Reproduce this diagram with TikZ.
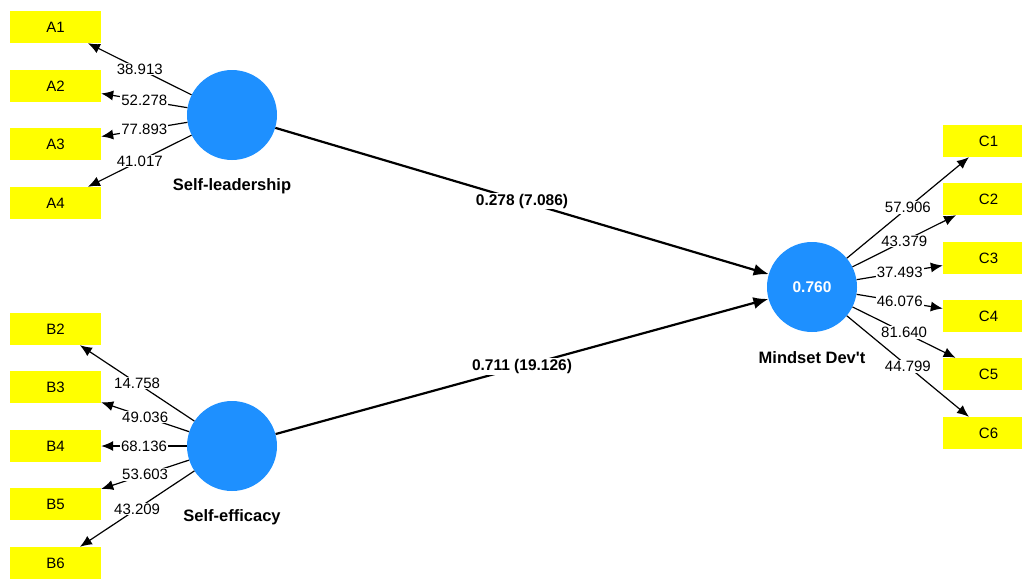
\documentclass[tikz,border=0pt]{standalone}
\usepackage{fontspec}
\setmainfont{Liberation Sans}
\usetikzlibrary{arrows.meta,shapes}
\definecolor{lvblue}{RGB}{30,144,255}
\definecolor{mvyellow}{RGB}{255,255,0}

\begin{document}
\begin{tikzpicture}[x=1pt, y=-1pt, font=\fontsize{15}{18}\selectfont,
lv/.style={circle, fill=lvblue, minimum size=90pt, inner sep=0pt, text=white, font=\fontsize{15.5}{18}\selectfont\bfseries},
mv/.style={rectangle, fill=mvyellow, minimum width=91pt, minimum height=32pt, inner sep=0pt},
lvname/.style={font=\fontsize{16.5}{19}\selectfont\bfseries},
pathname/.style={font=\fontsize{15.5}{18}\selectfont\bfseries},
load/.style={-{Latex[length=12pt,width=10pt]}, line width=1.2pt},
inner/.style={-{Latex[length=15pt,width=12pt]}, line width=2.2pt},
coef/.style={fill=white, inner sep=1pt}]
\useasboundingbox (0,0) rectangle (1022,578);
% latent variables
\node[lv] (sl) at (232,115) {};
\node[lv] (se) at (232,446) {};
\node[lv] (md) at (812,287) {0.760};
\node[lvname] (slname) at (232,186) {Self-leadership};
\node[lvname] (sename) at (232,517) {Self-efficacy};
\node[lvname] (mdname) at (812,358) {Mindset Dev\textquotesingle t};
% indicators
\node[mv] (a1) at (55.5,27) {A1};
\node[mv] (a2) at (55.5,86) {A2};
\node[mv] (a3) at (55.5,144) {A3};
\node[mv] (a4) at (55.5,203) {A4};
\node[mv] (b2) at (55.5,329) {B2};
\node[mv] (b3) at (55.5,387) {B3};
\node[mv] (b4) at (55.5,446) {B4};
\node[mv] (b5) at (55.5,504) {B5};
\node[mv] (b6) at (55.5,563) {B6};
\node[mv] (c1) at (988.5,141) {C1};
\node[mv] (c2) at (988.5,199) {C2};
\node[mv] (c3) at (988.5,258) {C3};
\node[mv] (c4) at (988.5,316) {C4};
\node[mv] (c5) at (988.5,374) {C5};
\node[mv] (c6) at (988.5,433) {C6};
\path[load]
(sl) edge node[coef] {38.913} (a1)
(sl) edge node[coef] {52.278} (a2)
(sl) edge node[coef] {77.893} (a3)
(sl) edge node[coef] {41.017} (a4)
(se) edge node[coef] {14.758} (b2)
(se) edge node[coef] {49.036} (b3)
(se) edge node[coef] {68.136} (b4)
(se) edge node[coef] {53.603} (b5)
(se) edge node[coef] {43.209} (b6)
(md) edge node[coef] {57.906} (c1)
(md) edge node[coef] {43.379} (c2)
(md) edge node[coef] {37.493} (c3)
(md) edge node[coef] {46.076} (c4)
(md) edge node[coef] {81.640} (c5)
(md) edge node[coef] {44.799} (c6);
\path[inner]
(sl) edge node[coef, pathname] {0.278 (7.086)} (md)
(se) edge node[coef, pathname] {0.711 (19.126)} (md);
\end{tikzpicture}
\end{document}
